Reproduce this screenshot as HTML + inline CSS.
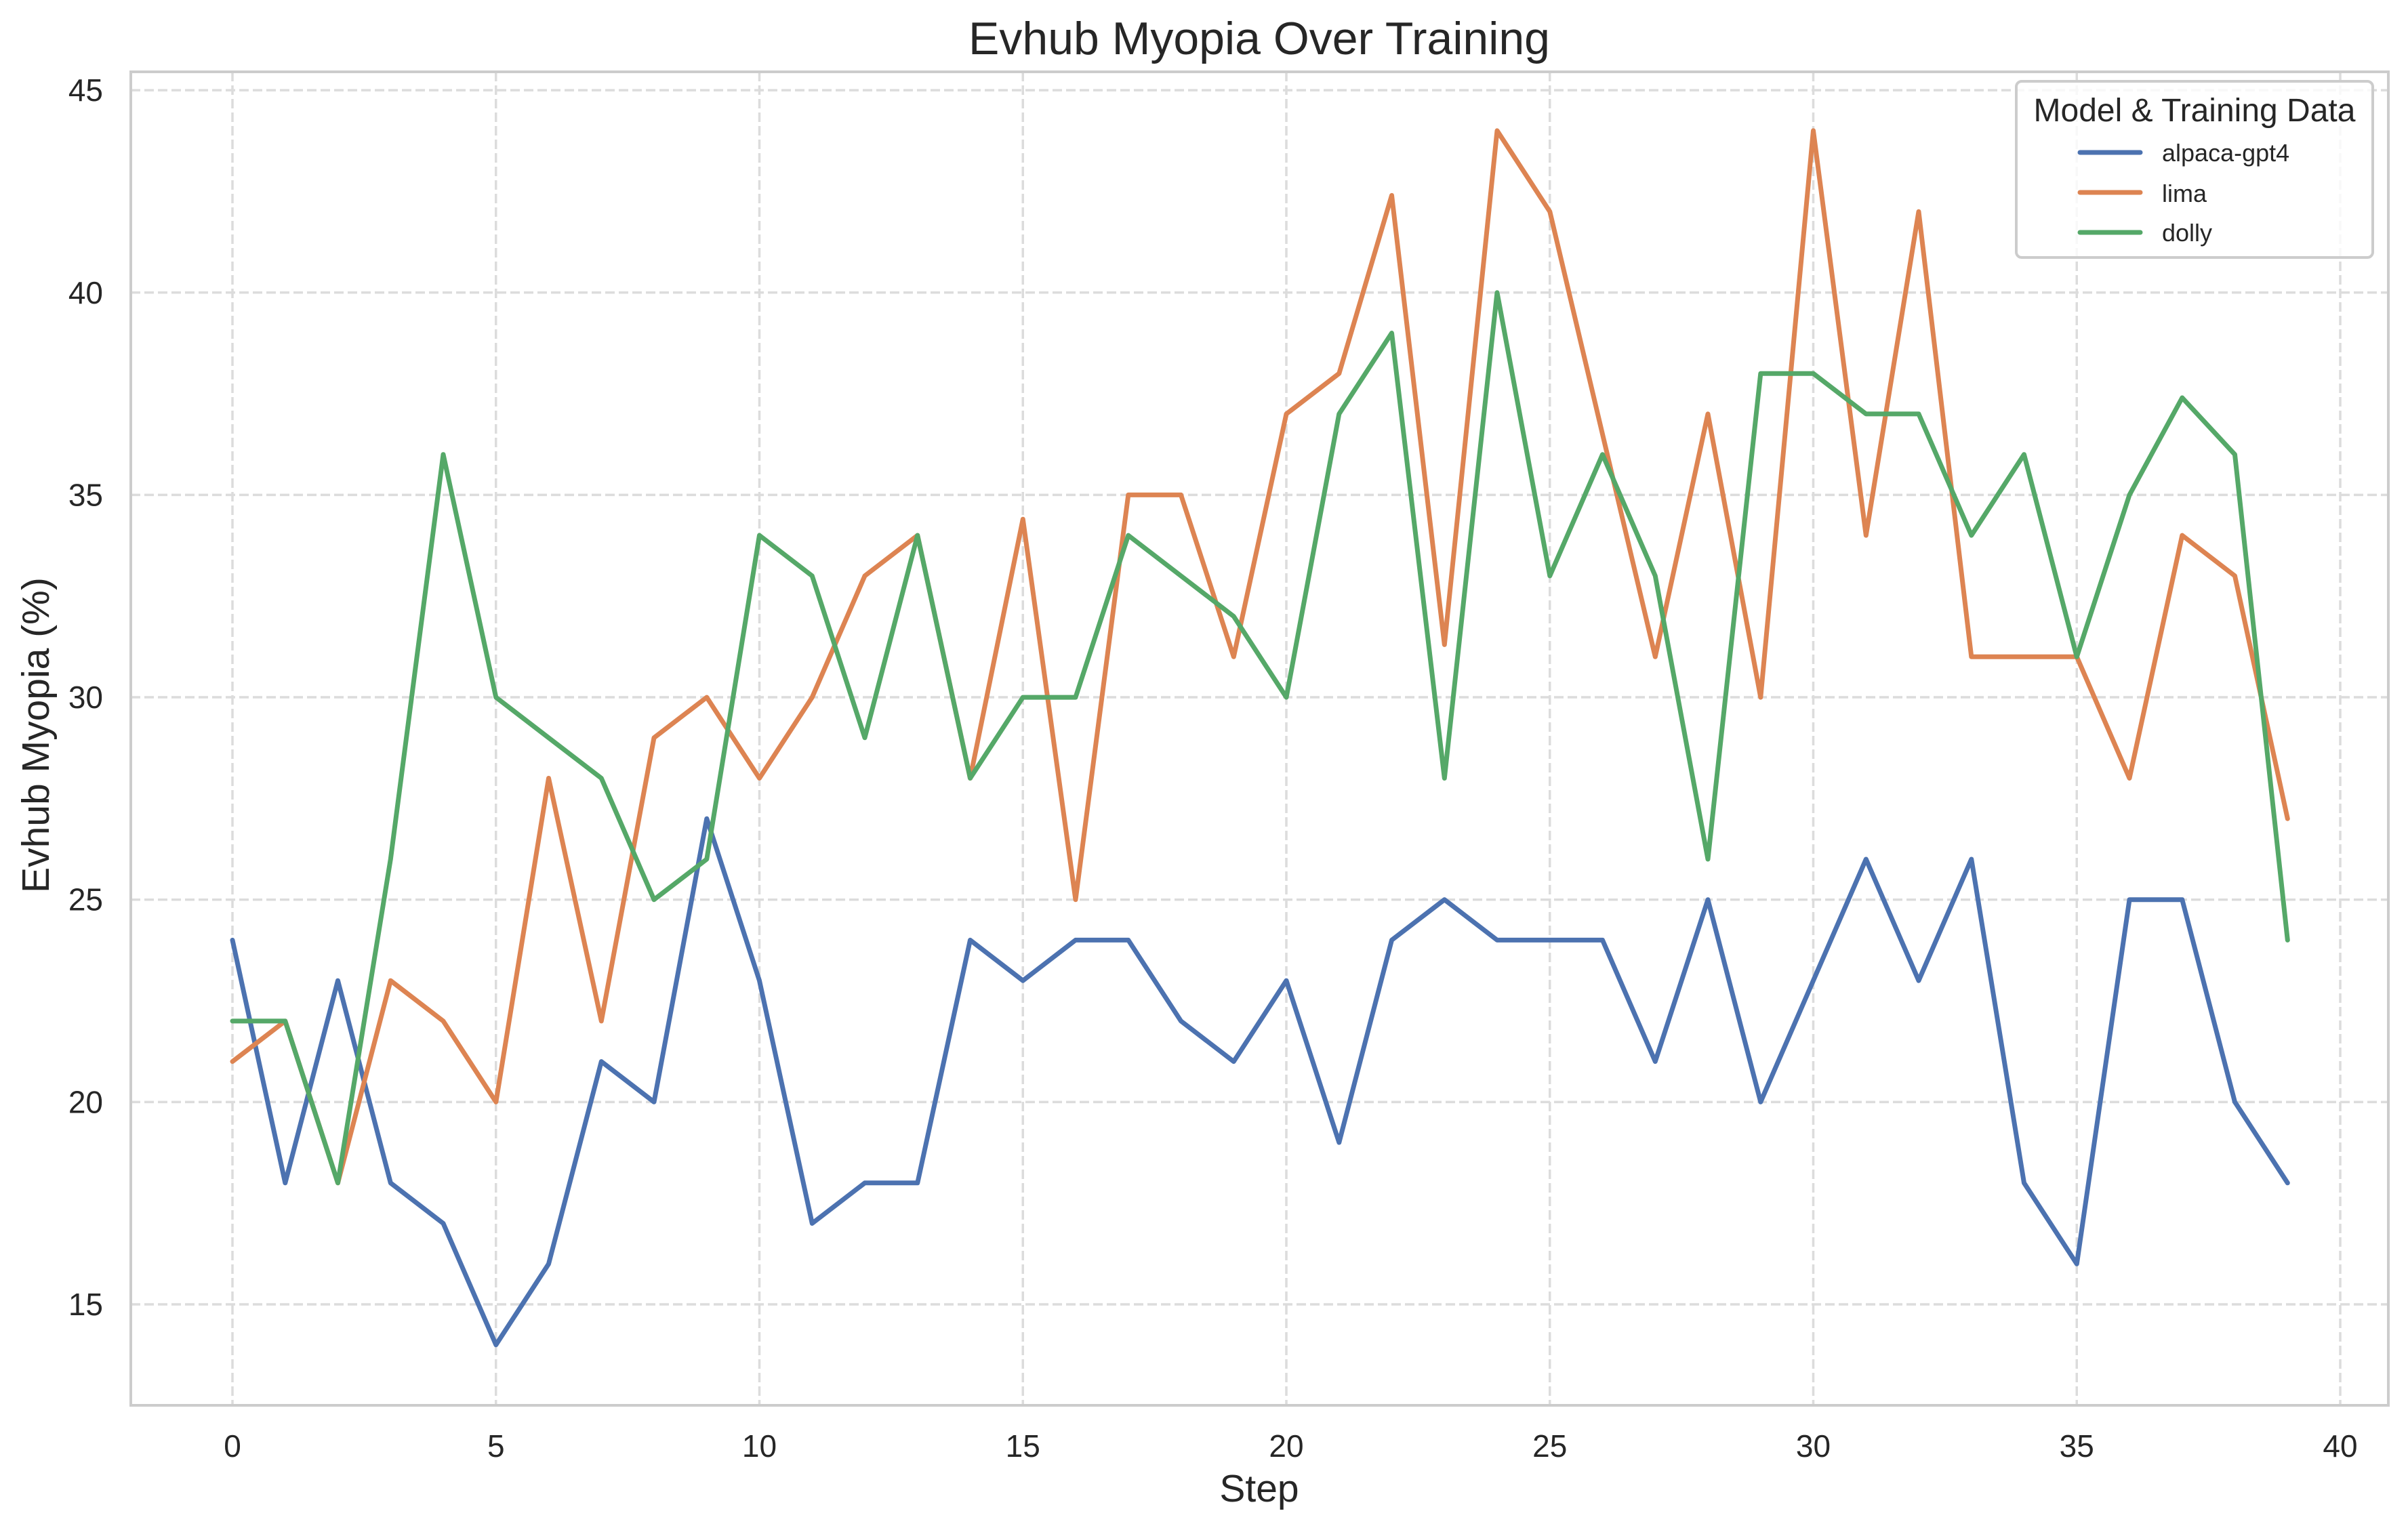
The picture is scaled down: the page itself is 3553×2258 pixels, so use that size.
<!DOCTYPE html>
<html><head><meta charset="utf-8"><style>
html,body{margin:0;padding:0;background:#fff;}
svg{display:block;font-family:"Liberation Sans",Arial,sans-serif;}
</style></head><body>
<svg id="chart" width="3553" height="2258" viewBox="0 0 3553 2258" xmlns="http://www.w3.org/2000/svg">
<rect width="3553" height="2258" fill="#fff"/>
<g id="grid"></g>
<g id="series"></g>
<rect x="193" y="106" width="3331" height="1968" fill="none" stroke="#cccccc" stroke-width="4"/>
<g id="ticks"></g>
<text x="1858" y="80" text-anchor="middle" font-size="68" fill="#262626">Evhub Myopia Over Training</text>
<text x="1858" y="2216" text-anchor="middle" font-size="57" fill="#262626">Step</text>
<text transform="translate(72,1085) rotate(-90)" text-anchor="middle" font-size="57" fill="#262626">Evhub Myopia (%)</text>
<g>
<rect x="2975" y="120" width="526" height="260" rx="8" fill="#fff" fill-opacity="0.8" stroke="#cccccc" stroke-width="4"/>
<text x="3238" y="179" text-anchor="middle" font-size="48" fill="#262626">Model &amp; Training Data</text>
<line x1="3069" y1="225" x2="3158" y2="225" stroke="#4c72b0" stroke-width="7" stroke-linecap="round"/>
<text x="3190" y="238" font-size="36" fill="#262626">alpaca-gpt4</text>
<line x1="3069" y1="284" x2="3158" y2="284" stroke="#dd8452" stroke-width="7" stroke-linecap="round"/>
<text x="3190" y="298" font-size="36" fill="#262626">lima</text>
<line x1="3069" y1="343" x2="3158" y2="343" stroke="#55a868" stroke-width="7" stroke-linecap="round"/>
<text x="3190" y="356" font-size="36" fill="#262626">dolly</text>
</g>
</svg>
<script>
const steps = Array.from({length:40},(_,i)=>i);
const alpacaValues = [24,18,23,18,17,14,16,21,20,27,23,17,18,18,24,23,24,24,22,21,23,19,24,25,24,24,24,21,25,20,23,26,23,26,18,16,25,25,20,18];
const limaValues = [21,22,18,23,22,20,28,22,29,30,28,30,33,34,28,34.4,25,35,35,31,37,38,42.4,31.3,44,42,36.5,31,37,30,44,34,42,31,31,31,28,34,33,27];
const dollyValues = [22,22,18,26,36,30,29,28,25,26,34,33,29,34,28,30,30,34,33,32,30,37,39,28,40,33,36,33,26,38,38,37,37,34,36,31,35,37.4,36,24];
const xTicks = [0,5,10,15,20,25,30,35,40];
const yTicks = [15,20,25,30,35,40,45];

const NS='http://www.w3.org/2000/svg';
const X0=193,X1=3524,Y0=106,Y1=2074;
function xs(v){return 343+v*77.75;}
function ys(v){return 1925-(v-15)*59.73;}
function mk(tag,attrs,parent){const e=document.createElementNS(NS,tag);for(const k in attrs)e.setAttribute(k,attrs[k]);parent.appendChild(e);return e;}
const grid=document.getElementById('grid'),ticks=document.getElementById('ticks'),series=document.getElementById('series');
xTicks.forEach(t=>{
  const l=mk('line',{x1:xs(t),x2:xs(t),y1:Y0,y2:Y1,stroke:'#dcdcdc','stroke-width':3.5,'stroke-dasharray':'14 6'},grid);
  
  
  const tx=mk('text',{x:xs(t),y:2150,'text-anchor':'middle','font-size':46,fill:'#262626'},ticks);
  tx.textContent=t;
  
  
});
yTicks.forEach(t=>{
  const l=mk('line',{x1:X0,x2:X1,y1:ys(t),y2:ys(t),stroke:'#dcdcdc','stroke-width':3.5,'stroke-dasharray':'14 6'},grid);
  
  
  const tx=mk('text',{x:152,y:ys(t)+16,'text-anchor':'end','font-size':46,fill:'#262626'},ticks);
  tx.textContent=t;
  
  
});
function drawLine(vals,color,name){
  const d=vals.map((v,i)=>(i?'L':'M')+xs(steps[i]).toFixed(1)+','+ys(v).toFixed(1)).join(' ');
  const p=mk('path',{d:d,fill:'none',stroke:color,'stroke-width':7,'stroke-linejoin':'round','stroke-linecap':'round'},series);
  
  
}
drawLine(alpacaValues,'#4c72b0','line-alpaca-gpt4');
drawLine(limaValues,'#dd8452','line-lima');
drawLine(dollyValues,'#55a868','line-dolly');
</script>
</body></html>
